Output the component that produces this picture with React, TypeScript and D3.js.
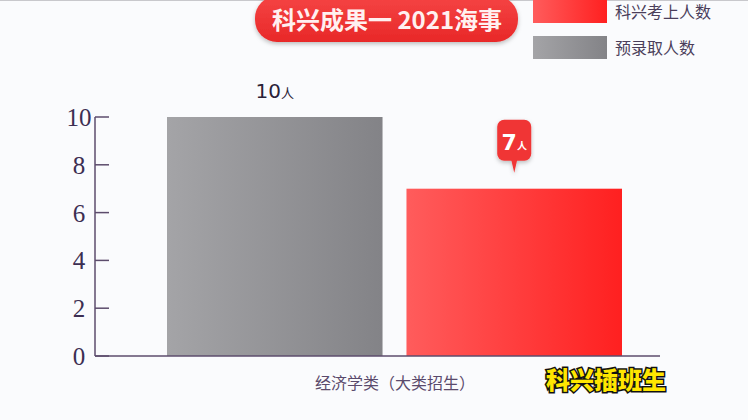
import React from "react";
import * as d3 from "d3";

const category = "经济学类（大类招生）";
const seriesNames = ["预录取人数", "科兴考上人数"];
const seriesValues = [10, 7];
const yTicks = [0, 2, 4, 6, 8, 10];
const titleText = "科兴成果一 2021海事";
const legendOrder = ["科兴考上人数", "预录取人数"];
const watermark = "科兴插班生";

export default function App() {
  const W = 748, H = 420;
  const y = d3.scaleLinear().domain([0, 10]).range([356, 117]);
  const x0 = d3.scaleBand<string>().domain([category]).range([140, 650]).paddingInner(0).paddingOuter(0);
  const x1 = d3.scaleBand<string>().domain(seriesNames).range([167, 622]).paddingInner(0.1).paddingOuter(0);
  const fills: Record<string, string> = { "预录取人数": "url(#gGray)", "科兴考上人数": "url(#gRed)" };
  const axisColor = "#5c4c6c";
  const font = "'Noto Sans CJK SC', 'Noto Sans', sans-serif";

  const grayX = x1("预录取人数")!;
  const redX = x1("科兴考上人数")!;
  const bw = x1.bandwidth();
  const calloutCx = redX + bw / 2;
  const calloutTop = y(7) - 69;

  return (
    <div style={{ position: "fixed", left: 0, top: 0 }}>
      <svg width={W} height={H} viewBox={`0 0 ${W} ${H}`} style={{ display: "block" }}>
        <defs>
          <linearGradient id="gGray" x1="0" x2="1" y1="0" y2="0">
            <stop offset="0%" stopColor="#a4a4a7" />
            <stop offset="100%" stopColor="#838387" />
          </linearGradient>
          <linearGradient id="gRed" x1="0" x2="1" y1="0" y2="0">
            <stop offset="0%" stopColor="#ff5c5c" />
            <stop offset="100%" stopColor="#ff2020" />
          </linearGradient>
          <linearGradient id="gPill" x1="0" x2="0" y1="0" y2="1">
            <stop offset="0%" stopColor="#f54444" />
            <stop offset="100%" stopColor="#e82828" />
          </linearGradient>
          <filter id="shadow" x="-10%" y="-30%" width="120%" height="160%">
            <feDropShadow dx="0" dy="2" stdDeviation="2" floodColor="#000" floodOpacity="0.25" />
          </filter>
        </defs>
        <rect x={0} y={0} width={W} height={H} fill="#fafbfd" />
        <line x1={0} x2={W} y1={0.5} y2={0.5} stroke="#c8c8cc" strokeWidth={1} />

        {/* Title pill */}
        <rect x={255} y={-4} width={263} height={46} rx={22} fill="url(#gPill)" filter="url(#shadow)" />
        <text x={387} y={29} textAnchor="middle" fill="#fff0f0" fontFamily={font} fontWeight={700} fontSize={24}>
          {titleText}
        </text>

        {/* Legend */}
        {legendOrder.map((name, i) => (
          <g key={name}>
            <rect x={533} y={i * 36} width={74} height={23} fill={fills[name]} />
            <text x={615} y={i * 36 + 18} fill="#4a3e5a" fontFamily={font} fontSize={16}>
              {name}
            </text>
          </g>
        ))}

        {/* Bars */}
        {seriesNames.map((name, i) => (
          <rect
            key={name}
            x={x1(name)!}
            y={y(seriesValues[i])}
            width={bw}
            height={y(0) - y(seriesValues[i])}
            fill={fills[name]}
          />
        ))}

        {/* Axis */}
        <line x1={95} x2={95} y1={y(10)} y2={y(0)} stroke={axisColor} strokeWidth={1.5} />
        <line x1={95} x2={660} y1={y(0)} y2={y(0)} stroke={axisColor} strokeWidth={1.5} />
        {yTicks.map((t) => (
          <g key={t}>
            <line x1={95} x2={109} y1={y(t)} y2={y(t)} stroke={axisColor} strokeWidth={1.5} />
            <text x={79} y={y(t) + 9} textAnchor="middle" fill="#3c2e52" fontFamily="'Liberation Serif', serif" fontSize={25}>
              {t}
            </text>
          </g>
        ))}

        {/* Category label */}
        <text x={(x0(category)! + x0.bandwidth() / 2)} y={389} textAnchor="middle" fill="#5a4a6c" fontFamily={font} fontSize={16}>
          {category}
        </text>

        {/* Gray label */}
        <text x={grayX + bw / 2} y={y(seriesValues[0]) - 19} textAnchor="middle" fill="#2a2238" fontFamily="'DejaVu Sans', sans-serif">
          <tspan fontSize={20}>{seriesValues[0]}</tspan>
          <tspan fontSize={13} fontFamily={font}>人</tspan>
        </text>

        {/* Red callout */}
        <g filter="url(#shadow)">
          <path
            d={`M${calloutCx - 3},${calloutTop + 40} L${calloutCx},${calloutTop + 53} L${calloutCx + 3},${calloutTop + 40} Z`}
            fill="#f03434"
          />
          <rect x={calloutCx - 17} y={calloutTop} width={34} height={41} rx={7} fill="#f03434" />
        </g>
        <text x={calloutCx} y={calloutTop + 30} textAnchor="middle" fill="#fff" fontFamily="'DejaVu Sans', sans-serif" fontWeight={700}>
          <tspan fontSize={22}>{seriesValues[1]}</tspan>
          <tspan fontSize={10} fontFamily={font}>人</tspan>
        </text>

        {/* Watermark */}
        <text x={606} y={389} textAnchor="middle" fill="#ffe600" stroke="#111" strokeWidth={3} paintOrder="stroke" fontFamily={font} fontWeight={900} fontSize={24}>
          {watermark}
        </text>
      </svg>
    </div>
  );
}
